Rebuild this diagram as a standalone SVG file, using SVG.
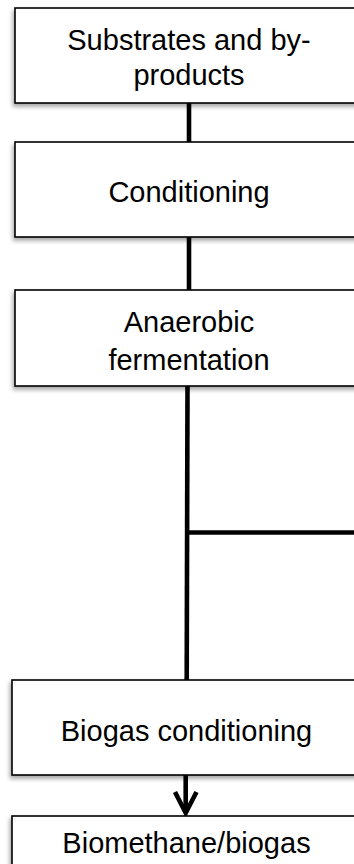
<svg xmlns="http://www.w3.org/2000/svg" width="354" height="864" viewBox="0 0 354 864">
  <style>
    .box { fill: #ffffff; stroke: #000000; stroke-width: 1.6; filter: url(#sh); }
    .lbl { font-family: "Liberation Sans", Arial, sans-serif; font-size: 29px; fill: #000000; text-anchor: middle; }
    .con { fill: none; stroke: #000000; stroke-width: 4.6; }
  </style>
  <defs>
    <filter id="sh" x="-10%" y="-20%" width="120%" height="150%">
      <feDropShadow dx="-1.5" dy="3" stdDeviation="2" flood-color="#000000" flood-opacity="0.35"/>
    </filter>
  </defs>
  <rect width="354" height="864" fill="#ffffff"/>
  <g id="connectors">
    <line class="con" x1="189" y1="103" x2="189" y2="142"/>
    <line class="con" x1="189" y1="237" x2="189" y2="290"/>
    <line class="con" x1="187.5" y1="386" x2="186.7" y2="680"/>
    <line class="con" x1="187" y1="532.5" x2="356" y2="532.5"/>
    <line class="con" x1="185.7" y1="775" x2="185.7" y2="812"/>
    <polyline class="con" points="175,792 185.7,813 196.5,792"/>
  </g>
  <g id="n1">
    <rect class="box" x="15" y="8" width="348" height="95"/>
    <text class="lbl" x="189" y="50">Substrates and by-</text>
    <text class="lbl" x="189" y="85">products</text>
  </g>
  <g id="n2">
    <rect class="box" x="15" y="142" width="348" height="95"/>
    <text class="lbl" x="189" y="202">Conditioning</text>
  </g>
  <g id="n3">
    <rect class="box" x="15" y="290" width="348" height="96"/>
    <text class="lbl" x="189" y="332">Anaerobic</text>
    <text class="lbl" x="189" y="370">fermentation</text>
  </g>
  <g id="n4">
    <rect class="box" x="12" y="680" width="350" height="95"/>
    <text class="lbl" x="186.5" y="741">Biogas conditioning</text>
  </g>
  <g id="n5">
    <rect class="box" x="12" y="816" width="350" height="80"/>
    <text class="lbl" x="186.5" y="853">Biomethane/biogas</text>
  </g>
</svg>
